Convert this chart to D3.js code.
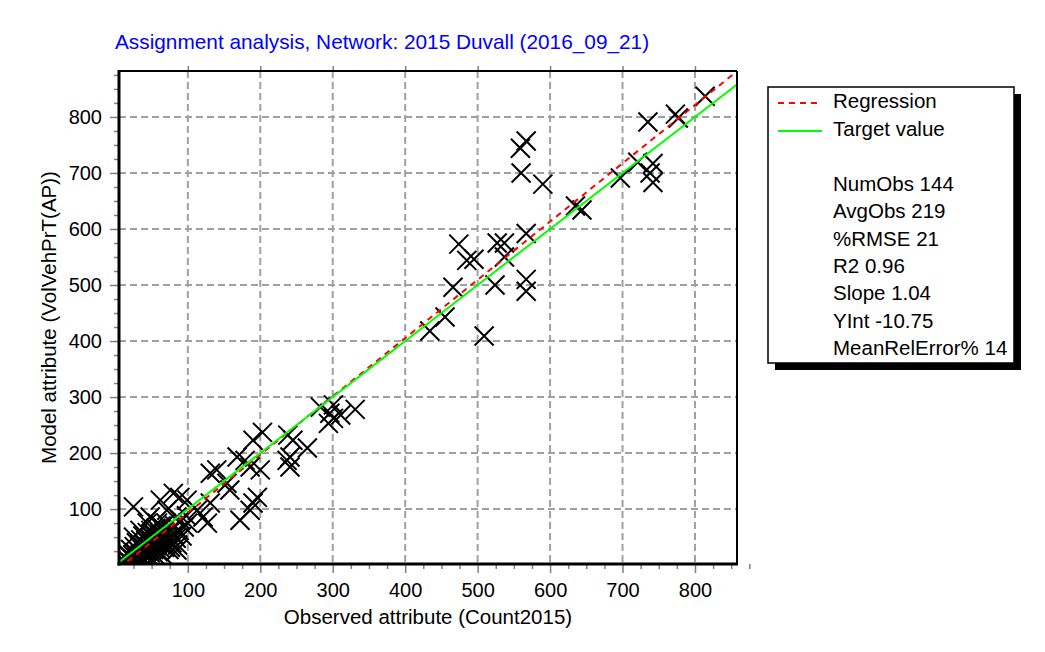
<!DOCTYPE html>
<html>
<head>
<meta charset="utf-8">
<script src="https://cdn.jsdelivr.net/npm/d3@7"></script>
<style>
  body { margin: 0; background: #fff; }
  text { font-family: "Liberation Sans", Arial, sans-serif; }
</style>
</head>
<body>
<div id="chart"></div>
<script>
// chart values
const titleText = 'Assignment analysis, Network: 2015 Duvall (2016_09_21)';
const xTitle = 'Observed attribute (Count2015)';
const yTitle = 'Model attribute (VolVehPrT(AP))';
const majorTicks = [100, 200, 300, 400, 500, 600, 700, 800];
const legendItems = ['Regression', 'Target value'];
const statLines = ['NumObs 144', 'AvgObs 219', '%RMSE 21', 'R2 0.96', 'Slope 1.04', 'YInt -10.75', 'MeanRelError% 14'];
const regSlope = 1.04;
const regInt = -10.75;

// observed counts
const obsValues = [
  814, 735, 773, 777, 697, 721, 742, 738, 742,
  567, 559, 560, 590, 635, 644, 567, 474, 485, 495, 527, 537, 537, 466, 524, 567, 567, 455, 434, 509,
  283, 301, 331, 296, 301, 294, 311, 203, 190, 238, 245, 265, 241, 237, 241, 179, 186, 200, 168,
  172, 190, 196, 186, 131, 140, 154, 158, 131, 127, 113, 121,
  25, 62, 80, 89, 99, 71, 85, 48, 58, 76, 85, 44, 34, 25, 52, 62,
  12, 14, 15, 17, 18, 20, 21, 22, 24, 25, 26, 27, 28, 29, 30, 31, 32, 33, 34, 35,
  36, 37, 38, 39, 40, 41, 42, 43, 44, 45, 46, 47, 48, 49, 50, 51, 52, 53, 54, 55,
  56, 57, 58, 59, 60, 61, 62, 63, 64, 65, 66, 67, 68, 70, 72, 74, 76, 78, 80, 82,
  84, 86, 88, 90, 92, 95, 98, 100
];
// modelled volumes
const modelValues = [
  837, 791, 805, 798, 691, 719, 717, 700, 683,
  757, 744, 700, 680, 641, 634, 592, 573, 544, 546, 575, 575, 550, 496, 500, 510, 489, 443, 418, 409,
  282, 286, 278, 271, 262, 253, 268, 237, 223, 232, 223, 209, 193, 187, 175, 187, 175, 170, 193,
  80, 111, 121, 98, 164, 170, 146, 134, 111, 75, 98, 86,
  104, 116, 128, 121, 116, 98, 86, 86, 75, 32, 27, 75, 62, 50, 50, 39,
  5, 12, 3, 20, 8, 15, 28, 4, 18, 10, 33, 22, 6, 40, 14, 26, 9, 35, 18, 45,
  12, 28, 52, 20, 36, 8, 44, 25, 58, 15, 32, 48, 22, 62, 38, 10, 55, 28, 42, 18,
  66, 35, 50, 24, 44, 58, 30, 70, 20, 52, 40, 60, 32, 75, 46, 28, 62, 40, 55, 70,
  48, 36, 62, 80, 52, 68, 88, 75
];

const WIDTH = 1045;
const HEIGHT = 652;
const PLOT = {left: 119, right: 737, top: 71, bottom: 564};

const svg = d3.select('#chart')
  .append('svg')
  .attr('width', WIDTH)
  .attr('height', HEIGHT);

const x = d3.scaleLinear().domain([5, 858]).range([PLOT.left, PLOT.right]);
const y = d3.scaleLinear().domain([2, 882]).range([PLOT.bottom, PLOT.top]);

const minorTicks = d3.range(25, 876, 25).filter(v => v % 100 !== 0);

// clip for everything inside the frame
svg.append('clipPath').attr('id', 'plotClip')
  .append('rect')
  .attr('x', PLOT.left).attr('y', PLOT.top)
  .attr('width', PLOT.right - PLOT.left).attr('height', PLOT.bottom - PLOT.top);

// grid lines
const grid = svg.append('g');
grid.selectAll('.gx').data(majorTicks).join('line')
  .attr('x1', d => x(d)).attr('x2', d => x(d))
  .attr('y1', PLOT.top).attr('y2', PLOT.bottom)
  .attr('stroke', '#a0a0a0').attr('stroke-width', 2).attr('stroke-dasharray', '7,4');
grid.selectAll('.gy').data(majorTicks).join('line')
  .attr('y1', d => y(d)).attr('y2', d => y(d))
  .attr('x1', PLOT.left).attr('x2', PLOT.right)
  .attr('stroke', '#a0a0a0').attr('stroke-width', 2).attr('stroke-dasharray', '7,4');

// points
const plot = svg.append('g').attr('clip-path', 'url(#plotClip)');
const points = d3.range(obsValues.length).map(i => ({obs: obsValues[i], model: modelValues[i]}));
plot.selectAll('path.mark').data(points).join('path')
  .attr('class', 'mark')
  .attr('d', 'M-9.5,-9.5L9.5,9.5M-9.5,9.5L9.5,-9.5')
  .attr('transform', d => `translate(${x(d.obs)},${y(d.model)})`)
  .attr('stroke', '#000').attr('stroke-width', 2).attr('fill', 'none');

// regression and target lines
const xd = x.domain();
const line = d3.line().x(d => x(d[0])).y(d => y(d[1]));
plot.append('path')
  .attr('d', line(xd.map(v => [v, regSlope * v + regInt])))
  .attr('stroke', '#ff0000').attr('stroke-width', 2).attr('stroke-dasharray', '6,5').attr('fill', 'none');
plot.append('path')
  .attr('d', line(xd.map(v => [v, v])))
  .attr('stroke', '#00ff00').attr('stroke-width', 2).attr('fill', 'none');

// axes
const bottomMajor = svg.append('g').attr('transform', `translate(0,${PLOT.bottom})`)
  .call(d3.axisBottom(x).tickValues(majorTicks).tickSize(9).tickPadding(10).tickFormat(d3.format('d')));
const bottomMinor = svg.append('g').attr('transform', `translate(0,${PLOT.bottom})`)
  .call(d3.axisBottom(x).tickValues(minorTicks).tickSize(5).tickFormat(''));
const leftMajor = svg.append('g').attr('transform', `translate(${PLOT.left},0)`)
  .call(d3.axisLeft(y).tickValues(majorTicks).tickSize(9).tickPadding(8).tickFormat(d3.format('d')));
const leftMinor = svg.append('g').attr('transform', `translate(${PLOT.left},0)`)
  .call(d3.axisLeft(y).tickValues(minorTicks).tickSize(5).tickFormat(''));
const topMajor = svg.append('g').attr('transform', `translate(0,${PLOT.top})`)
  .call(d3.axisTop(x).tickValues(majorTicks).tickSize(5).tickFormat(''));

[bottomMajor, bottomMinor, leftMajor, leftMinor, topMajor].forEach(g => {
  g.select('.domain').remove();
  g.selectAll('line').attr('stroke', '#808080').attr('stroke-width', 1.5);
  g.selectAll('text').attr('font-size', 20).attr('fill', '#000')
    .style('font-family', '"Liberation Sans", Arial, sans-serif');
});

// frame
const frame = svg.append('g').attr('stroke', '#000').attr('fill', 'none');
frame.append('line').attr('x1', PLOT.left).attr('x2', PLOT.right).attr('y1', PLOT.top).attr('y2', PLOT.top).attr('stroke-width', 2);
frame.append('line').attr('x1', PLOT.right).attr('x2', PLOT.right).attr('y1', PLOT.top).attr('y2', PLOT.bottom).attr('stroke-width', 2);
frame.append('line').attr('x1', PLOT.left).attr('x2', PLOT.left).attr('y1', PLOT.top - 1).attr('y2', PLOT.bottom + 1.5).attr('stroke-width', 3);
frame.append('line').attr('x1', PLOT.left - 1.5).attr('x2', PLOT.right + 1).attr('y1', PLOT.bottom).attr('y2', PLOT.bottom).attr('stroke-width', 3);

// titles
svg.append('text').attr('x', 115).attr('y', 49)
  .attr('font-size', 20.8).attr('fill', '#0000ff').text(titleText);
svg.append('text').attr('x', (PLOT.left + PLOT.right) / 2).attr('y', 624)
  .attr('text-anchor', 'middle').attr('font-size', 20.5).text(xTitle);
svg.append('text')
  .attr('transform', `translate(56,${(PLOT.top + PLOT.bottom) / 2}) rotate(-90)`)
  .attr('text-anchor', 'middle').attr('font-size', 20.5).text(yTitle);

// legend box with shadow
const LEG = {x: 768, y: 87, w: 246, h: 276};
svg.append('rect').attr('x', LEG.x + 7).attr('y', LEG.y + 7).attr('width', LEG.w).attr('height', LEG.h).attr('fill', '#000');
svg.append('rect').attr('x', LEG.x).attr('y', LEG.y).attr('width', LEG.w).attr('height', LEG.h)
  .attr('fill', '#fff').attr('stroke', '#000').attr('stroke-width', 1.5);

const legendStyles = [
  {color: '#ff0000', dash: '6,5'},
  {color: '#00ff00', dash: null}
];
legendItems.forEach((label, i) => {
  const by = 108 + i * 28;
  svg.append('line').attr('x1', 778).attr('x2', 822).attr('y1', by - 5).attr('y2', by - 5)
    .attr('stroke', legendStyles[i].color).attr('stroke-width', 2)
    .attr('stroke-dasharray', legendStyles[i].dash);
  svg.append('text').attr('x', 833).attr('y', by).attr('font-size', 20.5).text(label);
});
svg.selectAll('text.stat').data(statLines).join('text')
  .attr('class', 'stat')
  .attr('x', 833).attr('y', (d, i) => 191 + i * 27.3)
  .attr('font-size', 20.5).text(d => d);
</script>
</body>
</html>
